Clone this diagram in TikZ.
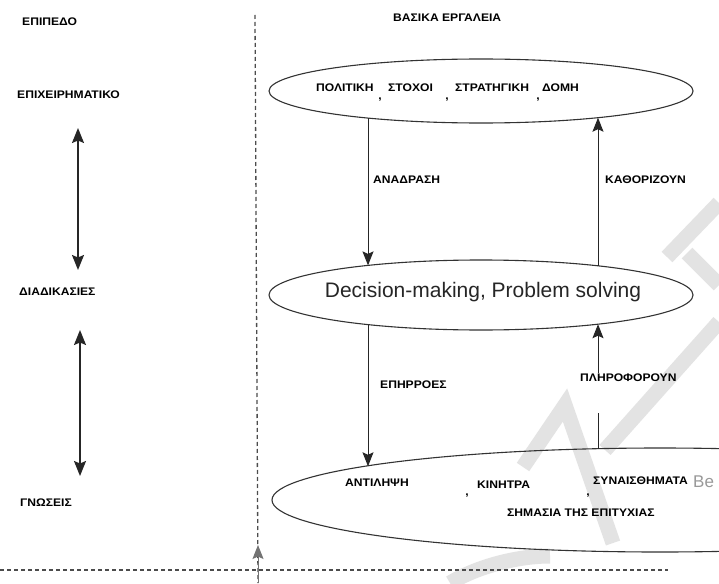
\documentclass[tikz,border=0pt]{standalone}
\usepackage{fontspec}
\setmainfont{Liberation Sans}
\newfontfamily\lblfont{Liberation Sans}[FakeStretch=1.1]
\usetikzlibrary{shapes.geometric,arrows.meta}

\tikzset{
  lbl/.style={font=\lblfont\bfseries\fontsize{11}{13}\selectfont, inner sep=0pt, anchor=west},
  sep/.style={font=\lblfont\bfseries\fontsize{11}{13}\selectfont, inner sep=0pt},
  tool/.style={ellipse, draw=black!80, line width=1.1pt, inner sep=0pt, outer sep=0pt},
  tip/.style={Stealth[length=14pt,width=11pt,inset=2.5pt,fill=black]},
  arr/.style={-{Stealth[length=14pt,width=11pt,inset=2.5pt]}, line width=1pt, draw=black!85},
  link/.style={line width=1pt, draw=black!85},
  dbl/.style={{Stealth[length=15pt,width=12pt,inset=2.5pt]}-{Stealth[length=15pt,width=12pt,inset=2.5pt]}, line width=1.5pt, draw=black!85},
  divider/.style={line width=1.3pt, draw=black!70, dash pattern=on 4pt off 3pt},
  wm/.style={line width=15pt, draw=black!11, line cap=butt}
}

\begin{document}
\begin{tikzpicture}[x=1pt,y=-1pt]
\useasboundingbox (0,0) rectangle (719,583);
\clip (0,0) rectangle (719,583);
\fill[white] (0,0) rectangle (719,583);

% watermark strokes in the background
\draw[wm] (523,467) -- (565,405) -- (613,543);
\draw[wm] (605,450) -- (719,322);
\draw[wm] (667,257) -- (719,203);
\draw[wm] (687,253) -- (719,285);
\draw[wm] (450,583) .. controls (480,565) and (520,556) .. (550,556);

% level column
\node[lbl] (lvl)  at (22,22)  {ΕΠΙΠΕΔΟ};
\node[lbl] (biz)  at (17,95)  {ΕΠΙΧΕΙΡΗΜΑΤΙΚΟ};
\node[lbl] (proc) at (19,292) {ΔΙΑΔΙΚΑΣΙΕΣ};
\node[lbl] (know) at (20,503) {ΓΝΩΣΕΙΣ};
\coordinate (d1a) at (78,128);
\coordinate (d1b) at (78,270);
\coordinate (d2a) at (80,330);
\coordinate (d2b) at (80,476);
\draw[dbl] (d1a) -- (d1b);
\draw[dbl] (d2a) -- (d2b);

% separators
\coordinate (vt) at (255,15);
\coordinate (vb) at (258,583);
\draw[divider] (vt) -- (vb);
\coordinate (hl) at (0,570);
\coordinate (hr) at (668,570);
\draw[divider] (hl) -- (hr);
\coordinate (ub) at (258,583);
\coordinate (ut) at (258,545);
\draw[arr, draw=black!55] (ub) -- (ut);

% tools column
\node[lbl] (tools) at (393,18) {ΒΑΣΙΚΑ ΕΡΓΑΛΕΙΑ};

\node[tool, minimum width=424pt, minimum height=64pt] (strat) at (481,91) {};
\node[lbl] (pol) at (316,88) {ΠΟΛΙΤΙΚΗ};
\node[sep] (c1) at (380,100) {,};
\node[lbl] (goal) at (388,88) {ΣΤΟΧΟΙ};
\node[sep] (c2) at (447,100) {,};
\node[lbl] (strg) at (455,88) {ΣΤΡΑΤΗΓΙΚΗ};
\node[sep] (c3) at (538,100) {,};
\node[lbl] (dom) at (542,88) {ΔΟΜΗ};

\node[tool, minimum width=424pt, minimum height=70pt] (dec) at (481,295) {};
\node[font=\fontsize{21}{24}\selectfont, text=black!85, inner sep=0pt] (dectxt) at (483,292) {Decision-making, Problem solving};

\node[tool, minimum width=776pt, minimum height=104pt] (know2) at (660,500) {};
\node[lbl] (perc) at (345,483) {ΑΝΤΙΛΗΨΗ};
\node[sep] (c4) at (467,496) {,};
\node[lbl] (mot) at (477,485) {ΚΙΝΗΤΡΑ};
\node[sep] (c5) at (588,496) {,};
\node[lbl] (emo) at (593,481) {ΣΥΝΑΙΣΘΗΜΑΤΑ};
\node[font=\fontsize{17}{20}\selectfont, text=black!40, inner sep=0pt, anchor=west] (bel) at (693,482) {Be};
\node[lbl] (succ) at (507,513) {ΣΗΜΑΣΙΑ ΤΗΣ ΕΠΙΤΥΧΙΑΣ};

% points where the vertical connectors meet the ellipses
\coordinate (strat-l) at (368,118.1);
\coordinate (strat-r) at (598,117.7);
\coordinate (dec-tl)  at (368,265.4);
\coordinate (dec-tr)  at (598,265.8);
\coordinate (dec-bl)  at (368,324.6);
\coordinate (dec-br)  at (598,324.2);
\coordinate (know-l)  at (368,466.3);
\coordinate (know-r)  at (598,448.7);

% connectors between the levels
\draw[arr] (strat-l) -- (dec-tl);
\draw[arr] (dec-tr) -- (strat-r);
\node[lbl] (fb) at (373,180) {ΑΝΑΔΡΑΣΗ};
\node[lbl] (def) at (605,180) {ΚΑΘΟΡΙΖΟΥΝ};

\draw[arr] (dec-bl) -- (know-l);
\node[lbl] (infl) at (380,385) {ΕΠΗΡΡΟΕΣ};
\coordinate (pl1) at (598,413);
\coordinate (pl2) at (598,373);
\draw[link] (know-r) -- (pl1);
\draw[arr] (pl2) -- (dec-br);
\node[lbl] (inf) at (580,378) {ΠΛΗΡΟΦΟΡΟΥΝ};
\end{tikzpicture}
\end{document}
